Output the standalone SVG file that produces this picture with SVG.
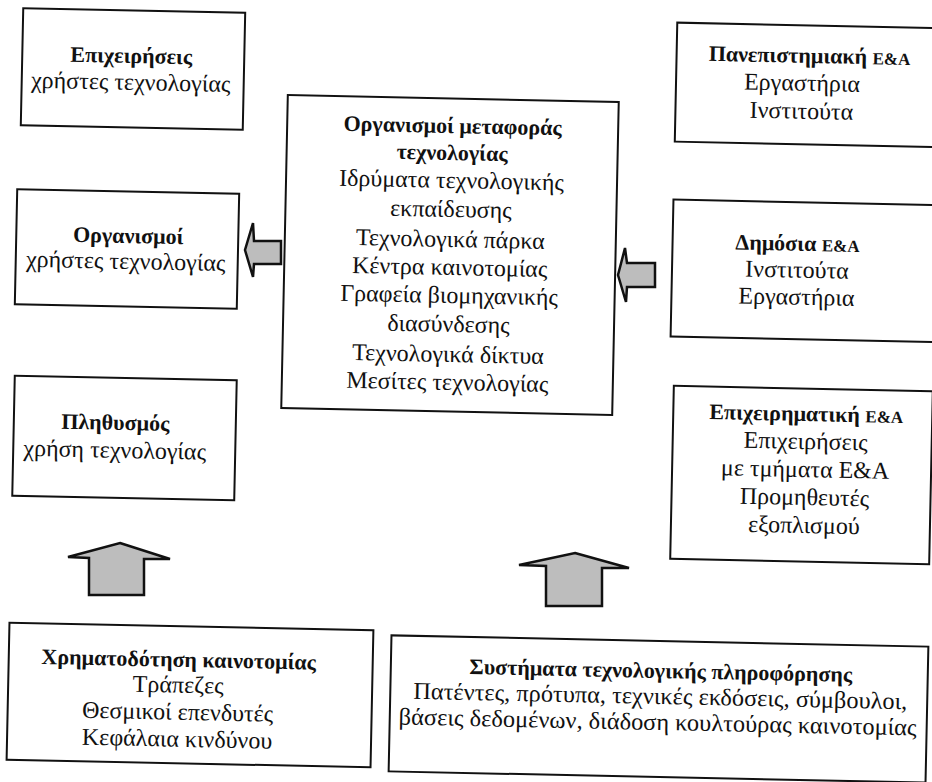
<svg xmlns="http://www.w3.org/2000/svg" width="932" height="782" viewBox="0 0 932 782">
<style>
.box{fill:#fff;stroke:#111;stroke-width:2}
.t{font-family:"Liberation Serif","DejaVu Serif",serif;font-size:24px;text-anchor:middle;fill:#111}
.b{font-weight:bold;font-size:22px}
.sc{font-size:17px}
.arrow{fill:#bdbdbd;stroke:#111;stroke-width:2.5;stroke-linejoin:miter}
</style>
<rect width="932" height="782" fill="#fff"/>
<g id="epixeiriseis" transform="rotate(1.2 133 69)">
<rect class="box" x="22" y="10.5" width="222" height="117"/>
<text class="t b" x="131" y="63">Επιχειρήσεις</text>
<text class="t" x="131" y="90">χρήστες τεχνολογίας</text>
</g>
<g id="panepistimiaki" transform="rotate(1.2 813 85)">
<rect class="box" x="676" y="25.5" width="274" height="119"/>
<text class="t b" x="809" y="63">Πανεπιστημιακή <tspan class="sc">Ε&amp;Α</tspan></text>
<text class="t" x="802" y="91">Εργαστήρια</text>
<text class="t" x="802" y="119">Ινστιτούτα</text>
</g>
<g id="organismoi" transform="rotate(1.2 127 249)">
<rect class="box" x="16" y="191.5" width="222" height="115"/>
<text class="t b" x="128" y="243">Οργανισμοί</text>
<text class="t" x="126" y="269">χρήστες τεχνολογίας</text>
</g>
<g id="metafora" transform="rotate(1.2 450 255)">
<rect class="box" x="284.5" y="98.5" width="331" height="313"/>
<text class="t b" x="450" y="133">Οργανισμοί μεταφοράς</text>
<text class="t b" x="450" y="160">τεχνολογίας</text>
<text class="t" x="450" y="188">Ιδρύματα τεχνολογικής</text>
<text class="t" x="450" y="217">εκπαίδευσης</text>
<text class="t" x="450" y="247">Τεχνολογικά πάρκα</text>
<text class="t" x="450" y="275">Κέντρα καινοτομίας</text>
<text class="t" x="450" y="303">Γραφεία βιομηχανικής</text>
<text class="t" x="450" y="332">διασύνδεσης</text>
<text class="t" x="450" y="362">Τεχνολογικά δίκτυα</text>
<text class="t" x="450" y="390">Μεσίτες τεχνολογίας</text>
</g>
<g id="dimosia" transform="rotate(1.2 811 271)">
<rect class="box" x="672" y="202.5" width="278" height="137"/>
<text class="t b" x="797" y="251">Δημόσια <tspan class="sc">Ε&amp;Α</tspan></text>
<text class="t" x="797" y="278">Ινστιτούτα</text>
<text class="t" x="797" y="305">Εργαστήρια</text>
</g>
<g id="plithysmos" transform="rotate(1.2 124.5 438)">
<rect class="box" x="13.5" y="378" width="222" height="120"/>
<text class="t b" x="115" y="430">Πληθυσμός</text>
<text class="t" x="115" y="458">χρήση τεχνολογίας</text>
</g>
<g id="epixeirimatiki" transform="rotate(1.2 801 475)">
<rect class="box" x="672" y="388.5" width="259" height="173"/>
<text class="t b" x="805" y="421">Επιχειρηματική <tspan class="sc">Ε&amp;Α</tspan></text>
<text class="t" x="805" y="449">Επιχειρήσεις</text>
<text class="t" x="805" y="477">με τμήματα Ε&amp;Α</text>
<text class="t" x="805" y="505">Προμηθευτές</text>
<text class="t" x="805" y="533">εξοπλισμού</text>
</g>
<g id="xrimatodotisi" transform="rotate(1.2 190 695)">
<rect class="box" x="8" y="626.5" width="364" height="137"/>
<text class="t b" x="178" y="667">Χρηματοδότηση καινοτομίας</text>
<text class="t" x="178" y="693">Τράπεζες</text>
<text class="t" x="178" y="720">Θεσμικοί επενδυτές</text>
<text class="t" x="178" y="747">Κεφάλαια κινδύνου</text>
</g>
<g id="systimata" transform="rotate(1.2 658.5 709)">
<rect class="box" x="390" y="641" width="537" height="136"/>
<text class="t b" x="660" y="678">Συστήματα τεχνολογικής πληροφόρησης</text>
<text class="t" x="660" y="704" textLength="494" lengthAdjust="spacingAndGlyphs">Πατέντες, πρότυπα, τεχνικές εκδόσεις, σύμβουλοι,</text>
<text class="t" x="658" y="730" textLength="518" lengthAdjust="spacingAndGlyphs">βάσεις δεδομένων, διάδοση κουλτούρας καινοτομίας</text>
</g>
<g id="connectors">
<polygon class="arrow" points="253,223 245,250 253,277 254,264 281,264 281,241 254,241"/>
<polygon class="arrow" points="625,248 618,275 626,302 627,287 655,287 655,263 627,263"/>
<polygon class="arrow" points="120,543 170,559 144,559 144,595 89,595 89,558 68,557"/>
<polygon class="arrow" points="575,553 629,568 602,568 602,606 546,606 546,566 519,565"/>
</g>
</svg>
